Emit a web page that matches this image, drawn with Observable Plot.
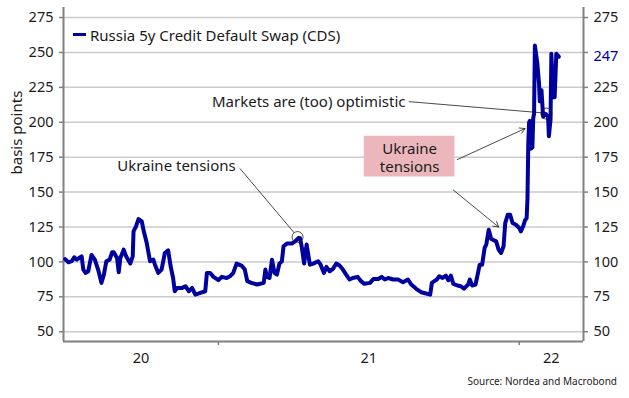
<!DOCTYPE html>
<html><head><meta charset="utf-8">
<script src="https://cdn.jsdelivr.net/npm/d3@7"></script>
<script src="https://cdn.jsdelivr.net/npm/@observablehq/plot@0.6"></script>
<style>
body{margin:0;background:#fff;font-family:"Noto Sans",sans-serif;}
#wrap{position:relative;width:629px;height:398px;background:#fff;}
#legend{position:absolute;left:73px;top:24.5px;font-size:15px;line-height:20px;color:#1a1a1a;display:flex;align-items:center;white-space:nowrap;}
#legend .sw{width:13px;height:3px;background:#00009f;margin-right:4px;}
#source{position:absolute;right:12px;top:374px;font-size:10px;line-height:14px;color:#222;white-space:nowrap;}
</style></head><body>
<div id="wrap"><div id="chart"></div>
<div id="legend"><span class="sw"></span><span>Russia 5y Credit Default Swap (CDS)</span></div>
<div id="source">Source: Nordea and Macrobond</div></div>
<script>
// Series: Russia 5y CDS, basis points
const dates = [
"2020-06-29","2020-07-03","2020-07-07","2020-07-10","2020-07-13","2020-07-16","2020-07-19","2020-07-21","2020-07-24","2020-07-27",
"2020-07-31","2020-08-04","2020-08-08","2020-08-12","2020-08-15","2020-08-18","2020-08-22","2020-08-25","2020-08-27","2020-08-31",
"2020-09-02","2020-09-04","2020-09-08","2020-09-11","2020-09-16","2020-09-19","2020-09-20","2020-09-23","2020-09-26","2020-09-30",
"2020-10-02","2020-10-06","2020-10-10","2020-10-14","2020-10-16","2020-10-20","2020-10-24","2020-10-28","2020-11-01","2020-11-04",
"2020-11-07","2020-11-09","2020-11-12","2020-11-18","2020-11-22","2020-11-26","2020-11-30","2020-12-04","2020-12-10","2020-12-16",
"2020-12-18","2020-12-22","2020-12-26","2021-01-01","2021-01-05","2021-01-11","2021-01-15","2021-01-19","2021-01-23","2021-01-29",
"2021-02-02","2021-02-05","2021-02-10","2021-02-17","2021-02-25","2021-02-27","2021-03-01","2021-03-04","2021-03-07","2021-03-10",
"2021-03-13","2021-03-16","2021-03-19","2021-03-21","2021-03-25","2021-03-31","2021-04-04","2021-04-08","2021-04-10","2021-04-12",
"2021-04-15","2021-04-18","2021-04-20","2021-04-22","2021-04-26","2021-05-02","2021-05-05","2021-05-09","2021-05-12","2021-05-16",
"2021-05-20","2021-05-24","2021-05-28","2021-06-01","2021-06-05","2021-06-09","2021-06-13","2021-06-19","2021-06-23","2021-06-27",
"2021-07-04","2021-07-08","2021-07-14","2021-07-18","2021-07-22","2021-07-26","2021-08-01","2021-08-07","2021-08-13","2021-08-19",
"2021-08-23","2021-08-29","2021-09-04","2021-09-10","2021-09-15","2021-09-17","2021-09-20","2021-09-23","2021-09-26","2021-09-30",
"2021-10-04","2021-10-07","2021-10-10","2021-10-13","2021-10-18","2021-10-22","2021-10-26","2021-10-31","2021-11-02","2021-11-05",
"2021-11-09","2021-11-12","2021-11-14","2021-11-17","2021-11-20","2021-11-22","2021-11-25","2021-11-28","2021-11-30","2021-12-04",
"2021-12-07","2021-12-10","2021-12-13","2021-12-15","2021-12-18","2021-12-21","2021-12-24","2021-12-28","2022-01-01","2022-01-03",
"2022-01-06","2022-01-08","2022-01-10","2022-01-11","2022-01-12","2022-01-13","2022-01-14","2022-01-15","2022-01-17","2022-01-18",
"2022-01-19","2022-01-20","2022-01-23","2022-01-25","2022-01-26","2022-01-28","2022-01-30","2022-02-02","2022-02-05","2022-02-06",
"2022-02-08","2022-02-09","2022-02-11","2022-02-13","2022-02-15","2022-02-18"
];
const cds = [
102,99.7,100.5,103.3,101.6,102.8,104,94.5,92.1,93.3,
105,101.6,94.5,85,90.9,100.5,101.6,106.9,106.9,102.8,
92.6,102.8,108.8,104,98.8,104,121.9,125.5,130.7,129,
123,113.5,100.5,101.6,98,92.1,94.5,106.4,108.3,96.9,
88.5,79,81.4,81.4,82.6,79,81.4,76.6,77.8,79,
92.1,92.1,89.3,86.9,89.3,88.5,89.7,92.1,98.8,97.4,
94.5,86.2,85,83.8,85,94.5,89.3,88.5,101.6,92.1,
90.9,98.8,100.5,111.2,113.1,113.1,114.7,117.1,117.1,111.2,
98.8,112.4,105.2,98,98.8,100.5,98,92.1,96.4,93.3,
95,98.8,97.4,94.5,90.9,87.4,88.5,89.3,86.2,84.3,
85,87.8,87.8,89.3,87.4,88.5,87.4,87.4,85.5,87.4,
83.8,80.7,78.3,77.4,76.6,85,86.2,87.4,89.7,88.5,
90.2,86.9,90.2,84.3,83.1,82.6,80.9,83.8,87.4,83.1,
83.8,92.1,98,98,110,112.4,123,116.4,115.9,114.7,
108.8,106.4,111.2,127.8,133.8,133.8,127.8,126.6,124.3,121.9,
125.9,129.7,131.4,145,185,200,201,181,182,203,
206,255,242,228,215,223,204,206,204,190,
202,249,218,218,249,247
];
const yTicks = [50,75,100,125,150,175,200,225,250,275];
const yearNames = ["20","21","22"];
const yearStartStrings = ["2020-01-01","2021-01-01","2022-01-01","2023-01-01"];
const xDomainStrings = ["2020-06-27","2022-03-20"];
const yDomain = [43, 282.2];

// Annotations (data coordinates)
const noteTexts = ["Ukraine tensions","Markets are (too) optimistic"];
const noteTextX = ["2021-01-22","2021-08-16"];
const noteTextY = [168.7, 214.5];
const linkX1 = ["2021-01-27","2021-08-20"];
const linkY1 = [167, 214.8];
const linkX2 = ["2021-04-03","2022-01-28"];
const linkY2 = [120.8, 206.8];
const circleX = ["2021-04-07","2022-02-03"];
const circleY = [117.8, 206.2];
const boxX = ["2021-06-27","2021-10-15"];
const boxY = [160.8, 190];
const boxText = "Ukraine\ntensions";
const boxTextX = "2021-08-21";
const boxTextY = 175.1;
const arrowX1 = ["2021-10-18","2021-10-13"];
const arrowY1 = [173.3, 151.5];
const arrowX2 = ["2022-01-08","2021-12-07"];
const arrowY2 = [195.5, 125];

const blue = "#00009f";
const axisGray = "#808080";
const ink = "#1a1a1a";
const P = d3.utcParse("%Y-%m-%d");

const series = dates.map((d, i) => ({date: P(d), value: cds[i]}));
const xDomain = xDomainStrings.map(P);
const yearStarts = yearStartStrings.map(P);
const yearLabels = yearNames.map((name, i) => {
  const a = Math.max(+yearStarts[i], +xDomain[0]);
  const b = Math.min(+yearStarts[i+1], +xDomain[1]);
  return {label: name, mid: new Date((a + b) / 2)};
});
const innerTicks = yearStarts.filter(d => d > xDomain[0] && d < xDomain[1]);
const notes = noteTexts.map((t, i) => ({t, x: P(noteTextX[i]), y: noteTextY[i]}));
const links = linkX1.map((d, i) => ({x1: P(d), y1: linkY1[i], x2: P(linkX2[i]), y2: linkY2[i]}));
const circles = circleX.map((d, i) => ({x: P(d), y: circleY[i]}));
const arrows = arrowX1.map((d, i) => ({x1: P(d), y1: arrowY1[i], x2: P(arrowX2[i]), y2: arrowY2[i]}));
const last = series[series.length - 1];

const chart = Plot.plot({
  width: 629, height: 370,
  marginLeft: 63, marginRight: 46, marginTop: 7, marginBottom: 29,
  style: {fontFamily: '"Noto Sans", sans-serif', fontSize: "14.5px", background: "#fff", color: ink, overflow: "visible"},
  x: {type: "utc", domain: xDomain},
  y: {domain: yDomain},
  marks: [
    Plot.ruleY(yTicks, {stroke: "#cbcbcb", strokeWidth: 1.5}),
    Plot.rect([0], {x1: () => P(boxX[0]), x2: () => P(boxX[1]), y1: () => boxY[0], y2: () => boxY[1], fill: "#ecb7bc"}),
    Plot.ruleX(xDomain, {stroke: axisGray, strokeWidth: 2}),
    Plot.ruleY([yDomain[0]], {stroke: axisGray, strokeWidth: 2}),
    Plot.axisY({ticks: yTicks, anchor: "left", tickSize: 4, tickPadding: 6, label: null, stroke: axisGray, strokeWidth: 1.5, fill: ink}),
    Plot.axisY({ticks: yTicks, anchor: "right", tickSize: 4, tickPadding: 6, label: null, stroke: axisGray, strokeWidth: 1.5, fill: ink, tickFormat: d => d === 250 ? "" : String(d)}),
    Plot.axisX({ticks: innerTicks, anchor: "bottom", tickSize: 4, label: null, stroke: axisGray, strokeWidth: 1.5, tickFormat: () => ""}),
    Plot.text(yearLabels, {x: "mid", text: "label", frameAnchor: "bottom", dy: 17, lineAnchor: "middle", fill: ink}),
    Plot.text(["basis points"], {frameAnchor: "left", dx: -46, rotate: -90, text: d => d, lineAnchor: "middle", fill: ink, fontSize: 15}),
    Plot.text([boxText], {x: () => P(boxTextX), y: () => boxTextY, text: d => d, lineHeight: 1.22, lineAnchor: "middle", fill: ink, fontSize: 15}),
    Plot.line(series, {x: "date", y: "value", stroke: blue, strokeWidth: 4}),
    Plot.text([last], {y: "value", text: d => String(d.value), frameAnchor: "right", dx: 10, textAnchor: "start", fill: blue}),
    Plot.link(links, {x1: "x1", y1: "y1", x2: "x2", y2: "y2", stroke: ink, strokeWidth: 0.8}),
    Plot.dot(circles, {x: "x", y: "y", r: 5.5, stroke: ink, strokeWidth: 0.8, fill: "none"}),
    Plot.arrow(arrows, {x1: "x1", y1: "y1", x2: "x2", y2: "y2", stroke: ink, strokeWidth: 0.8, headLength: 11}),
    Plot.text(notes, {x: "x", y: "y", text: "t", textAnchor: "end", lineAnchor: "middle", fill: ink, fontSize: 15})
  ]
});
document.getElementById("chart").appendChild(chart);
</script>
</body></html>
